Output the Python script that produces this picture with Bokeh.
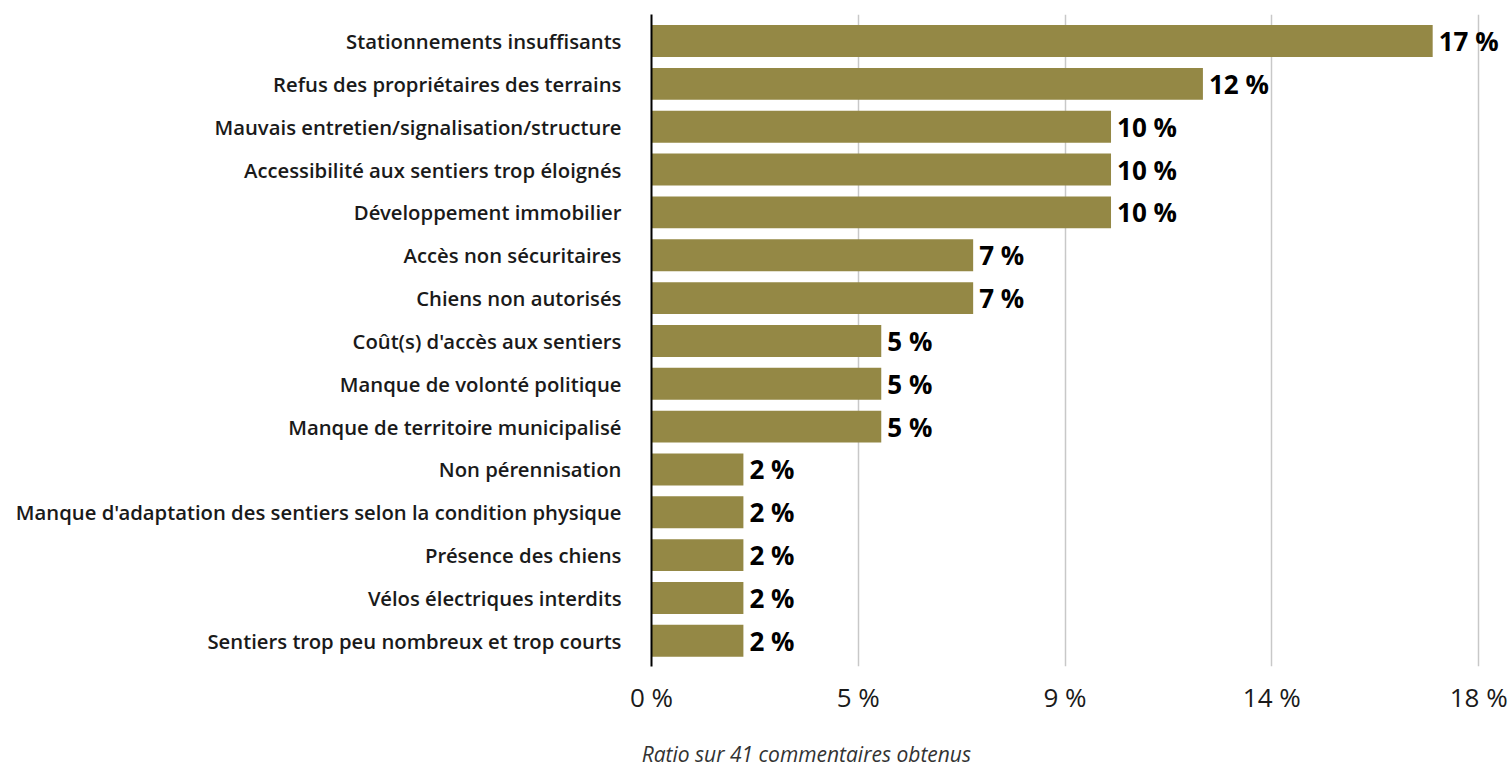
from bokeh.plotting import figure
from bokeh.models import Range1d, FixedTicker, LinearAxis, ColumnDataSource
from bokeh.core.properties import value
from bokeh.embed import file_html
from bokeh.resources import INLINE

categories = [
    "Stationnements insuffisants",
    "Refus des propriétaires des terrains",
    "Mauvais entretien/signalisation/structure",
    "Accessibilité aux sentiers trop éloignés",
    "Développement immobilier",
    "Accès non sécuritaires",
    "Chiens non autorisés",
    "Coût(s) d'accès aux sentiers",
    "Manque de volonté politique",
    "Manque de territoire municipalisé",
    "Non pérennisation",
    "Manque d'adaptation des sentiers selon la condition physique",
    "Présence des chiens",
    "Vélos électriques interdits",
    "Sentiers trop peu nombreux et trop courts",
]
values = [17, 12, 10, 10, 10, 7, 7, 5, 5, 5, 2, 2, 2, 2, 2]
tick_values = [0, 4.5, 9, 13.5, 18]
tick_labels = ["0 %", "5 %", "9 %", "14 %", "18 %"]
title_text = "Ratio sur 41 commentaires obtenus"

positions = list(range(len(categories)))
src = ColumnDataSource(dict(
    y=positions,
    v=values,
    lbl=[f"{v} %" for v in values],
))

FONT = "Open Sans"
SEMI = "Open Sans SemiBold"
p = figure(
    width=1511, height=770,
    x_range=Range1d(0, 18.65),
    y_range=Range1d(len(categories) - 1 + 0.6, -0.62),
    output_backend="svg", toolbar_location=None,
    min_border_left=651, min_border_right=3,
    min_border_top=14, min_border_bottom=102,
)
p.outline_line_color = None
p.background_fill_color = "white"
p.border_fill_color = "white"

p.hbar(y="y", left=0, right="v", height=0.745, source=src,
       fill_color="#948845", line_color=None)

p.text(x="v", y="y", text="lbl", source=src, x_offset=6,
       text_baseline="middle", text_align="left",
       text_font=value(FONT), text_font_style="bold",
       text_font_size="26px", text_color="#000000")

# x axis
p.xaxis.ticker = FixedTicker(ticks=tick_values)
p.xaxis.major_label_overrides = {t: l for t, l in zip(tick_values, tick_labels)}
p.xaxis.axis_line_color = None
p.xaxis.major_tick_line_color = None
p.xaxis.major_tick_out = 0
p.xaxis.major_tick_in = 0
p.xaxis.minor_tick_line_color = None
p.xaxis.major_label_text_font = FONT
p.xaxis.major_label_text_font_size = "26px"
p.xaxis.major_label_text_color = "#1a1a1a"
p.xaxis.major_label_standoff = 12

# caption under the x axis, drawn as a second (bare) axis label
caption_x = 3.37
cap_axis = LinearAxis(
    ticker=FixedTicker(ticks=[caption_x]),
    major_label_overrides={caption_x: title_text},
    axis_line_color=None, major_tick_line_color=None,
    minor_tick_line_color=None, major_tick_out=0, major_tick_in=0,
    major_label_text_font=FONT, major_label_text_font_style="italic",
    major_label_text_font_size="21px", major_label_text_color="#333333",
    major_label_standoff=22,
)
p.add_layout(cap_axis, "below")

# y axis
p.yaxis.ticker = FixedTicker(ticks=positions)
p.yaxis.major_label_overrides = {i: c for i, c in enumerate(categories)}
p.yaxis.axis_line_color = "#000000"
p.yaxis.axis_line_width = 2
p.yaxis.major_tick_line_color = None
p.yaxis.major_tick_out = 0
p.yaxis.major_tick_in = 0
p.yaxis.minor_tick_line_color = None
p.yaxis.major_label_text_font = SEMI
p.yaxis.major_label_text_font_size = "20.3px"
p.yaxis.major_label_text_color = "#1a1a1a"
p.yaxis.major_label_standoff = 30

p.ygrid.grid_line_color = None
p.xgrid.ticker = FixedTicker(ticks=tick_values)
p.xgrid.grid_line_color = "#c8c8c8"
p.xgrid.grid_line_width = 1.5

open("out.html", "w").write(file_html(p, INLINE))
